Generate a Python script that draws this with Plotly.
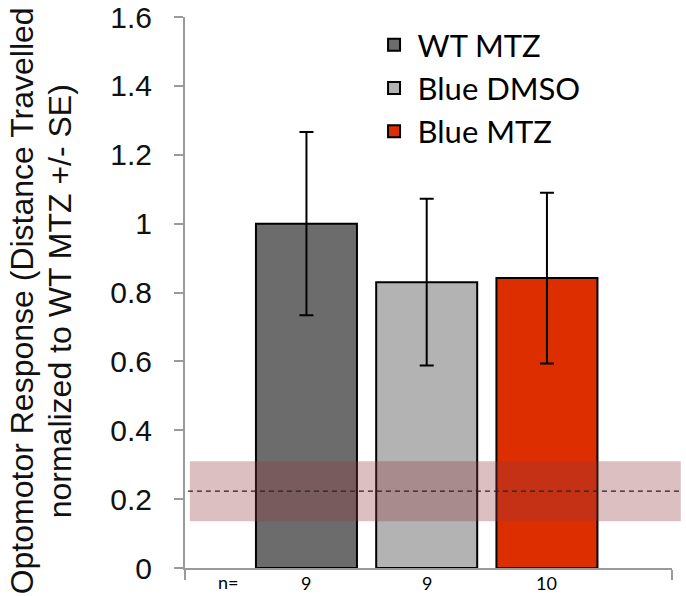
import plotly.graph_objects as go
import numpy as np

groups = ["WT MTZ", "Blue DMSO", "Blue MTZ"]
means = [1.0, 0.83, 0.842]
se = [0.266, 0.242, 0.248]
n_counts = ["9", "9", "10"]
colors = ["#6c6c6c", "#b3b3b3", "#dd2e00"]
baseline_mean = 0.223
baseline_low = 0.136
baseline_high = 0.31
y_ticks = [0, 0.2, 0.4, 0.6, 0.8, 1, 1.2, 1.4, 1.6]
y_title_lines = ["Optomotor Response (Distance Travelled", "normalized to WT MTZ +/- SE)"]

xpos = np.arange(1, len(groups) + 1)
x_range = [-0.01, 4.04]

fig = go.Figure()
for i, g in enumerate(groups):
    fig.add_trace(go.Bar(
        x=[xpos[i]], y=[means[i]], name=g, width=0.84,
        marker=dict(color=colors[i], line=dict(color="black", width=2)),
        error_y=dict(type="data", array=[se[i]], color="black", thickness=2, width=7),
    ))

# baseline band and dashed mean line (drawn above bars)
fig.add_shape(type="rect", xref="paper", yref="y", x0=0.01, x1=1.018,
              y0=baseline_low, y1=baseline_high, fillcolor="rgba(145,57,63,0.32)",
              line=dict(width=0), layer="above")
fig.add_shape(type="line", xref="paper", yref="y", x0=0.006, x1=1.018,
              y0=baseline_mean, y1=baseline_mean,
              line=dict(color="#222222", width=1.2, dash="5px,4px"), layer="above")

# n labels
fig.add_annotation(x=0.35, y=0, xref="x", yref="paper", yanchor="middle", yshift=-14,
                   text="n=", showarrow=False,
                   font=dict(family="Lato", size=18, color="black"))
for i, n in enumerate(n_counts):
    fig.add_annotation(x=xpos[i], y=0, xref="x", yref="paper", yanchor="middle",
                       yshift=-15, text=n, showarrow=False,
                       font=dict(family="Lato", size=18, color="black"))

# y axis title, two rotated lines
for xp, line in zip([-0.3347, -0.2567], y_title_lines):
    fig.add_annotation(x=xp, y=0.484, xref="paper", yref="paper", text=line,
                       textangle=-90, showarrow=False, xanchor="center", yanchor="middle",
                       font=dict(family="Liberation Sans", size=32, color="#111111"))

fig.update_layout(
    width=686, height=596,
    margin=dict(l=185, r=14, t=17, b=28, autoexpand=False),
    plot_bgcolor="white", paper_bgcolor="white",
    showlegend=True,
    legend=dict(x=0.381, y=0.998, xanchor="left", yanchor="top",
                font=dict(family="Lato", size=31, color="black"),
                bgcolor="rgba(0,0,0,0)", itemclick=False, itemwidth=37),
    xaxis=dict(range=x_range, showline=True, linecolor="#9a9a9a", linewidth=2,
               ticks="outside", ticklen=10, tickcolor="#9a9a9a", tickwidth=2,
               tickvals=x_range, ticktext=["", ""], showgrid=False, zeroline=False),
    yaxis=dict(range=[0, 1.6001], tickvals=y_ticks, showline=True, linecolor="#9a9a9a",
               linewidth=2, ticks="outside", ticklen=9, tickcolor="#9a9a9a", tickwidth=2,
               showgrid=False, zeroline=False, ticklabelstandoff=16,
               ticklabeloverflow="allow",
               tickfont=dict(family="Liberation Sans", size=30, color="#111111")),
)

fig.write_html("out.html", config={"displayModeBar": False},
               post_script="document.body.style.margin='0px';")
